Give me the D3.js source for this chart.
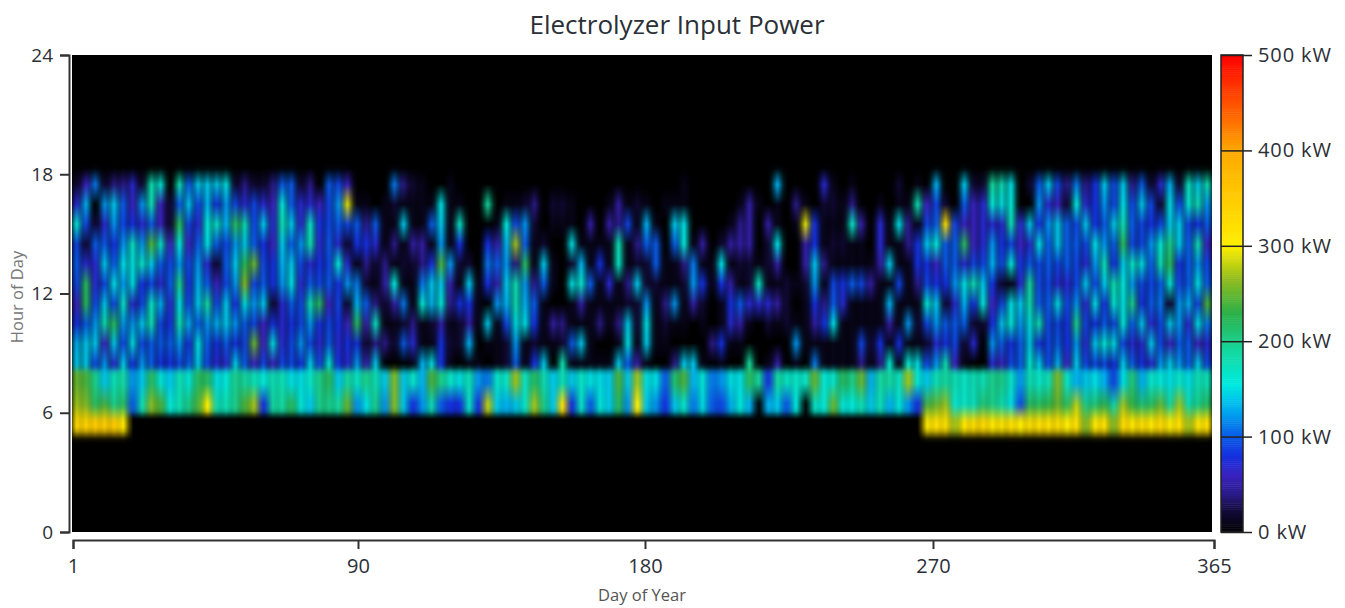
<!DOCTYPE html>
<html><head><meta charset="utf-8">
<script src="https://cdn.jsdelivr.net/npm/d3@7/dist/d3.min.js"></script>
<style>
html,body{margin:0;padding:0;background:#fff;overflow:hidden}
text{font-family:"Open Sans","Noto Sans",sans-serif;fill:#2b2f36}
</style></head><body><svg id="c" width="1345" height="608"></svg>
<script>
const chartTitle = "Electrolyzer Input Power";
const xTitle = "Day of Year", yTitle = "Hour of Day";
const dayTicks = [1, 90, 180, 270, 365];
const hourTicks = [0, 6, 12, 18, 24];
const powerTicks = [0, 100, 200, 300, 400, 500];
const hourRows = [5,6,7,8,9,10,11,12,13,14,15,16,17];
const tensOfKwPerUnit = 10;
// one list per 3-day bin; each holds tens of kW for hours 5..17
const powerByBin = [
[33,27,25,14,13,8,6,9,10,9,16,7,2],[34,26,24,14,14,10,22,22,7,2,9,13,6],[35,22,20,9,14,12,9,7,7,10,2,0,11],
[34,24,14,12,6,18,14,9,14,10,7,12,2],[35,20,18,7,14,22,9,15,10,8,12,14,4],[31,22,19,14,9,12,17,12,15,12,9,10,4],
[0,10,12,8,15,12,7,15,15,17,8,6,7],[0,18,14,12,9,14,9,8,17,12,7,12,2],[0,26,22,10,10,18,17,9,14,24,10,18,18],
[0,24,16,8,10,9,13,7,10,17,6,6,16],[0,16,14,8,10,8,7,10,9,6,2,2,0],[0,18,18,9,12,18,15,20,12,16,22,10,18],
[0,20,16,10,8,13,9,8,9,6,9,14,10],[0,24,22,14,15,10,14,13,12,10,7,9,14],[0,30,22,9,10,12,19,10,7,15,16,13,14],
[0,18,15,7,8,13,9,6,2,10,17,8,14],[0,18,16,7,10,14,14,9,10,9,13,12,15],[0,20,20,14,8,12,8,12,14,12,22,9,2],
[0,24,19,10,9,10,15,26,22,14,18,7,4],[0,27,18,6,25,9,12,9,25,10,9,9,2],[0,8,16,9,6,6,14,10,9,8,14,7,2],
[0,19,18,6,15,8,2,8,8,6,7,6,4],[0,19,18,9,7,7,7,12,13,14,18,16,10],[0,22,15,9,9,8,10,15,14,10,14,10,10],
[0,16,15,8,12,9,9,7,9,12,7,7,2],[0,14,17,14,9,12,18,10,7,18,17,7,4],[0,20,20,9,7,8,22,9,8,7,8,6,0],
[0,20,22,16,10,9,6,10,9,10,9,9,10],[0,19,14,8,7,8,9,8,16,7,10,12,9],[0,25,19,7,8,6,2,12,7,2,9,29,6],
[0,12,17,12,8,22,13,11,1,8,10,1,0],[0,15,20,5,2,5,10,2,4,8,4,1,0],[0,20,18,14,4,17,4,1,2,7,10,0,0],
[0,12,14,0,4,1,2,5,4,1,1,1,0],[0,26,26,0,2,1,5,16,1,4,1,2,11],[0,14,14,0,10,2,11,1,2,1,14,1,4],
[0,8,17,1,7,4,1,1,2,5,1,1,2],[0,12,13,13,1,1,16,11,4,5,1,1,1],[0,18,24,15,1,2,13,14,8,1,10,1,0],
[0,10,20,8,8,5,16,14,24,12,14,15,0],[0,8,17,1,2,1,4,5,12,1,1,1,1],[0,8,15,0,2,2,8,1,2,8,17,1,0],
[0,17,18,1,13,5,8,14,2,0,0,0,0],[0,8,12,1,0,1,1,1,0,0,0,0,0],[0,28,11,0,1,14,0,8,11,8,0,19,0],
[0,14,17,1,1,1,12,5,10,5,1,0,0],[0,13,17,2,2,9,13,14,12,13,16,1,0],[0,14,27,10,12,15,18,18,4,27,9,1,0],
[0,17,17,1,1,15,13,12,22,10,12,2,0],[0,27,22,8,2,8,10,4,1,1,2,4,0],[0,20,18,14,1,1,1,10,14,2,0,0,0],
[0,14,14,0,1,5,0,1,1,0,1,2,0],[0,32,18,18,2,4,0,0,0,0,1,2,0],[0,8,14,1,10,1,1,15,2,15,1,1,0],
[0,17,17,1,14,1,5,17,13,1,0,0,0],[0,10,15,1,1,1,1,10,1,1,5,0,0],[0,16,15,1,0,4,1,1,8,1,0,0,0],
[0,14,14,1,0,1,1,7,1,1,5,1,0],[0,22,24,14,1,4,1,1,17,18,4,5,0],[0,12,14,10,15,14,2,4,1,1,9,1,0],
[0,30,27,5,1,2,2,14,2,4,1,2,0],[0,14,15,1,14,15,12,2,2,10,13,1,0],[0,12,15,0,1,1,1,2,10,10,1,0,0],
[0,8,10,0,1,2,4,1,1,0,0,1,0],[0,14,21,4,0,1,12,1,1,10,14,1,0],[0,17,24,14,0,1,1,2,4,16,15,1,1],
[0,11,13,14,0,0,5,12,11,1,0,0,0],[0,15,16,1,0,1,2,8,1,5,0,0,0],[0,10,11,0,4,0,0,1,1,0,0,0,0],
[0,9,12,1,8,1,1,8,15,2,0,0,0],[0,13,15,0,1,7,8,5,1,5,1,0,0],[0,16,15,0,1,5,10,1,2,5,4,1,0],
[0,13,22,19,0,1,7,2,2,5,5,5,0],[0,0,19,0,0,0,7,17,1,0,0,1,0],[0,13,8,1,0,2,7,1,2,2,5,0,0],
[0,14,19,5,0,1,5,1,5,15,1,1,13],[0,10,17,0,0,2,2,2,0,0,0,0,0],[0,16,17,1,12,1,0,1,0,0,1,4,0],
[0,0,17,0,1,1,1,2,5,5,29,1,0],[0,17,25,11,1,5,8,12,14,8,8,0,0],[0,16,16,1,1,8,4,1,4,1,1,2,7],
[0,25,17,1,1,15,10,9,1,2,1,2,1],[0,16,22,1,1,1,7,8,1,2,1,1,0],[0,16,20,1,1,1,1,10,1,1,17,4,1],
[0,18,25,4,9,1,1,9,1,1,5,0,0],[0,14,13,1,2,1,1,5,1,0,0,0,0],[0,18,19,4,8,1,1,1,5,7,7,1,0],
[0,13,19,16,1,5,13,1,14,1,1,0,0],[0,16,17,1,8,1,1,9,1,1,15,1,2],[0,12,27,16,1,12,1,1,1,4,4,1,0],
[0,8,16,15,1,2,1,4,8,8,1,18,1],
[31,24,14,9,2,9,16,9,8,14,9,6,0],[32,25,18,12,7,12,14,8,6,16,10,9,13],[32,27,19,18,8,10,2,8,10,10,32,2,0],
[27,16,18,6,9,10,7,12,10,10,9,0,0],[31,17,17,1,2,10,13,15,7,22,6,10,14],[32,17,18,0,7,2,8,18,9,6,6,6,2],
[33,21,18,0,0,2,16,14,9,7,7,7,2],[31,20,20,7,12,8,6,8,13,12,7,16,19],[31,18,20,6,10,14,9,2,9,8,7,15,18],
[32,15,17,9,8,16,15,1,16,9,18,16,15],[30,9,12,10,10,12,14,7,8,6,7,0,0],[32,22,18,16,14,15,18,19,10,7,14,0,2],
[32,22,17,14,8,18,10,9,9,15,8,12,10],[32,23,18,9,9,9,10,9,10,10,12,7,14],[32,25,26,13,10,9,15,7,9,14,14,6,9],
[30,22,17,6,8,8,9,7,10,10,10,2,4],[32,28,13,14,12,20,12,9,9,10,9,16,11],[26,20,14,9,7,9,7,14,7,9,14,7,4],
[31,21,15,9,14,8,15,9,12,15,8,8,8],[32,23,13,9,16,10,8,14,18,12,10,12,14],[26,18,9,8,15,9,16,18,8,10,14,9,9],
[33,27,15,14,9,16,15,16,14,22,18,15,14],[31,23,21,10,7,10,20,12,17,9,10,9,4],[32,21,13,8,7,14,8,9,15,9,9,14,10],
[31,22,17,7,14,7,10,9,10,12,8,9,2],[33,25,16,12,9,9,11,10,18,16,9,2,7],[30,19,15,14,6,14,2,16,22,20,14,15,13],
[32,27,17,12,10,12,12,9,8,14,14,9,2],[27,18,15,10,10,7,13,10,10,10,9,16,17],[31,20,18,14,6,15,9,15,12,18,8,18,14],
[32,22,18,9,7,11,24,10,9,6,10,12,18]
];
const rampStops = [0,22,40,60,80,100,130,155,190,230,265,300,400,425,500];
const rampColors = ["#000000","#120a38","#2a1a88","#3a22c0","#1530e0","#0a5ae8","#00b0f0","#00eae0","#14d8a0","#2db048","#90bc20","#ffee00","#ffa800","#ff7a00","#ff0000"];

const svg = d3.select("#c");
const color = d3.scaleLinear().domain(rampStops).range(rampColors).clamp(true);
const xBin = d3.scaleLinear().domain([0,powerByBin.length]).range([72,1212]);
const y = d3.scaleLinear().domain([0,24]).range([532,55]);
const xAxisScale = d3.scaleLinear().domain(dayTicks).range([73,358,645,933,1214]);
const legendY = d3.scaleLinear().domain([0,500]).range([532,55]);

// vertical shading of one bin: hour of day -> colour channels, blended the way an image is resampled
const channels = ["r","g","b"];
const profiles = powerByBin.map(col=>{
  const [r5,r6,r7,r8] = col;
  const rows = col.slice(3).map((v,k)=>[8.5+k,v]);
  const knots = [[4.65,0],[5.2,r5],[5.6,r5]]
    .concat(r5>0 ? [[6.4,r6]] : [[5.75,0],[6.15,r6],[6.5,r6]])
    .concat([[7.5,r7],[8.0,r7],[8.4,r8]])
    .concat(rows).concat([[18.35,0]]);
  const domain = knots.map(k=>k[0]);
  const rgb = knots.map(k=>d3.rgb(color(k[1]*tensOfKwPerUnit)));
  return channels.map(c=>d3.scaleLinear().domain(domain).range(rgb.map(q=>q[c])).clamp(true));
});
const nBins = powerByBin.length, daysPerBin = 3, hourStep = 0.2;
function colorAt(dayPos,h){
  const p = dayPos/daysPerBin - 0.5, radius = h<8.2 ? 0.92 : 0.8;
  const out = [0,0,0];
  for(let i=Math.max(0,Math.floor(p-1));i<=Math.min(nBins-1,Math.ceil(p+1));i++){
    const w = 1-Math.abs(i-p)/radius;
    if(w>0) profiles[i].forEach((s,n)=>{out[n]+=w*s(h);});
  }
  return out;
}
const subHours = d3.range(4.6,18.4,hourStep), subDays = d3.range(0,nBins*daysPerBin);
const cells = subDays.flatMap(d=>subHours.map(h=>({d,h,c:colorAt(d+0.5,h+hourStep/2)}))).filter(c=>c.c[0]+c.c[1]+c.c[2]>10);

const defs = svg.append("defs");
defs.append("clipPath").attr("id","plot").append("rect").attr("x",72).attr("y",55).attr("width",1140).attr("height",477);
const f = defs.append("filter").attr("id","soft").attr("filterUnits","userSpaceOnUse")
  .attr("x",40).attr("y",30).attr("width",1200).attr("height",530).attr("color-interpolation-filters","sRGB");
f.append("feGaussianBlur").attr("stdDeviation","1.1 1.6");

svg.append("rect").attr("x",72).attr("y",55).attr("width",1140).attr("height",477).attr("fill","#000");
svg.append("g").attr("clip-path","url(#plot)").append("g").attr("filter","url(#soft)")
  .selectAll("rect").data(cells).join("rect")
  .attr("x",c=>xBin(c.d/daysPerBin)).attr("width",xBin(1/daysPerBin)-xBin(0)+0.4)
  .attr("y",c=>y(c.h+hourStep)).attr("height",y(0)-y(hourStep)+0.4)
  .attr("fill",c=>d3.rgb(c.c[0],c.c[1],c.c[2]).formatHex());

// left axis
const yAxis = d3.axisLeft(y).tickValues(hourTicks).tickSize(9).tickPadding(7);
const gy = svg.append("g").attr("transform","translate(69,0)").call(yAxis);
gy.selectAll("path,line").attr("stroke","#333").attr("stroke-width",2);
gy.selectAll("text").attr("font-size",19);
// bottom axis
const xAxis = d3.axisBottom(xAxisScale).tickValues(dayTicks).tickFormat(d3.format("d")).tickSize(9).tickPadding(10);
const gx = svg.append("g").attr("transform","translate(0,540)").call(xAxis);
gx.selectAll("path,line").attr("stroke","#333").attr("stroke-width",2);
gx.selectAll("text").attr("font-size",20);
// legend
const legendSteps = d3.range(0,500,2);
svg.append("g").selectAll("rect").data(legendSteps).join("rect")
  .attr("x",1221).attr("width",22).attr("y",d=>legendY(d+2)).attr("height",d=>legendY(d)-legendY(d+2)+0.5)
  .attr("fill",d=>color(d+1));
svg.append("rect").attr("x",1221).attr("y",55).attr("width",22).attr("height",477).attr("fill","none").attr("stroke","#222").attr("stroke-width",1.5);
const legendAxis = d3.axisRight(legendY).tickValues(powerTicks).tickFormat(d=>d+" kW").tickSize(31).tickPadding(6);
const gl = svg.append("g").attr("transform","translate(1221,0)").call(legendAxis);
gl.select("path").remove();
gl.selectAll("line").attr("stroke","#222").attr("stroke-width",1.5);
gl.selectAll("text").attr("font-size",20).attr("letter-spacing",0.9);
// titles
svg.append("text").attr("x",677).attr("y",34).attr("text-anchor","middle").attr("font-size",26).text(chartTitle);
svg.append("text").attr("x",642).attr("y",601).attr("text-anchor","middle").attr("font-size",16.5).attr("style","fill:#555").text(xTitle);
svg.append("text").attr("transform","translate(23,297) rotate(-90)").attr("text-anchor","middle").attr("font-size",16.5).attr("style","fill:#777").text(yTitle);
</script></body></html>
